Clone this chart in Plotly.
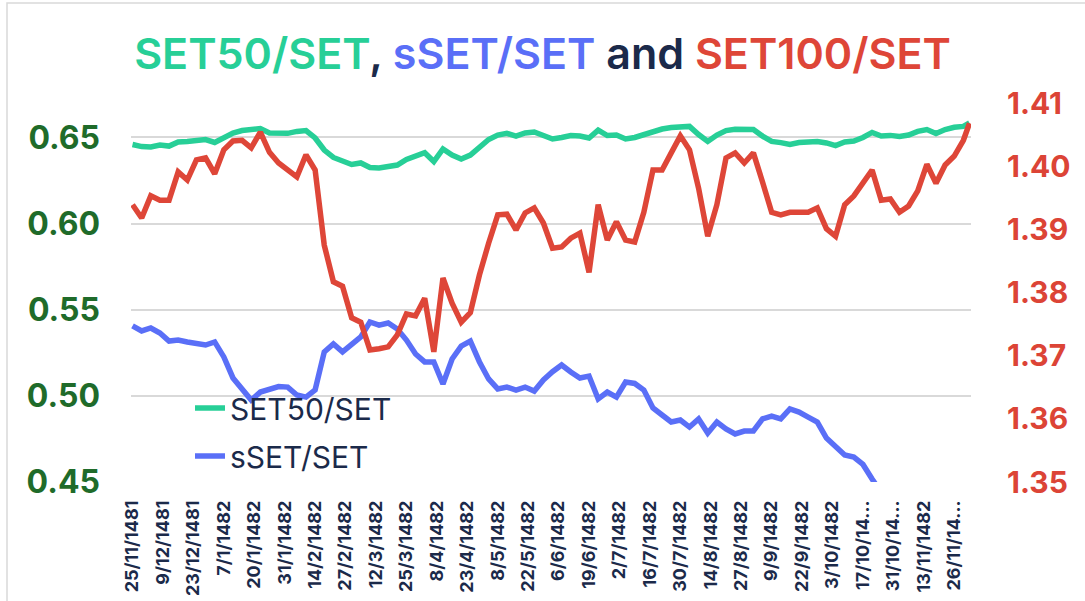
import plotly.graph_objects as go

# x positions are trading-day indices (276 sessions), sampled every 3 sessions plus the last one
n_days = 276
x_idx = list(range(0, n_days, 3)) + [n_days - 1]

tick_labels = ["25/11/1481", "9/12/1481", "23/12/1481", "7/1/1482", "20/1/1482", "31/1/1482",
               "14/2/1482", "27/2/1482", "12/3/1482", "25/3/1482", "8/4/1482", "23/4/1482",
               "8/5/1482", "22/5/1482", "6/6/1482", "19/6/1482", "2/7/1482", "16/7/1482",
               "30/7/1482", "14/8/1482", "27/8/1482", "9/9/1482", "22/9/1482", "3/10/1482",
               "17/10/14...", "31/10/14...", "13/11/1482", "26/11/14..."]
tick_step = 10

set50 = [0.6459, 0.6447, 0.6445, 0.6456, 0.6450, 0.6474, 0.6477, 0.6482, 0.6488, 0.6471,
         0.6503, 0.6526, 0.6540, 0.6546, 0.6552, 0.6526, 0.6523, 0.6524, 0.6535, 0.6540,
         0.6497, 0.6427, 0.6384, 0.6366, 0.6343, 0.6352, 0.6326, 0.6323, 0.6331, 0.6340,
         0.6372, 0.6389, 0.6411, 0.6360, 0.6433, 0.6398, 0.6375, 0.6398, 0.6439, 0.6488,
         0.6514, 0.6524, 0.6508, 0.6526, 0.6532, 0.6508, 0.6491, 0.6500, 0.6511, 0.6508,
         0.6497, 0.6543, 0.6511, 0.6514, 0.6491, 0.6500, 0.6517, 0.6540, 0.6549, 0.6558,
         0.6564, 0.6564, 0.6517, 0.6477, 0.6514, 0.6540, 0.6547, 0.6543, 0.6546, 0.6508,
         0.6477, 0.6470, 0.6460, 0.6471, 0.6471, 0.6477, 0.6468, 0.6453, 0.6474, 0.6479,
         0.6500, 0.6529, 0.6508, 0.6512, 0.6506, 0.6514, 0.6535, 0.6546, 0.6523, 0.6546,
         0.6559, 0.6564, 0.6584]

sset = [0.5406, 0.5377, 0.5394, 0.5365, 0.5318, 0.5324, 0.5313, 0.5307, 0.5295, 0.5313,
        0.5226, 0.5104, 0.5040, 0.4976, 0.5022, 0.5040, 0.5054, 0.5051, 0.5005, 0.4993,
        0.5034, 0.5255, 0.5301, 0.5255, 0.5295, 0.5342, 0.5429, 0.5411, 0.5423, 0.5388,
        0.5324, 0.5243, 0.5197, 0.5197, 0.5069, 0.5214, 0.5289, 0.5318, 0.5197, 0.5098,
        0.5040, 0.5051, 0.5034, 0.5051, 0.5028, 0.5092, 0.5140, 0.5179, 0.5139, 0.5104,
        0.5115, 0.4982, 0.5022, 0.4993, 0.5080, 0.5072, 0.5034, 0.4930, 0.4889, 0.4848,
        0.4860, 0.4819, 0.4866, 0.4784, 0.4848, 0.4808, 0.4779, 0.4796, 0.4796, 0.4866,
        0.4883, 0.4866, 0.4924, 0.4906, 0.4877, 0.4848, 0.4755, 0.4706, 0.4657, 0.4645,
        0.4602, 0.4517, 0.4440]

set100 = [1.3939, 1.3918, 1.3953, 1.3946, 1.3946, 1.3991, 1.3978, 1.4010, 1.4013, 1.3988,
          1.4026, 1.4040, 1.4041, 1.4029, 1.4054, 1.4022, 1.4005, 1.3994, 1.3983, 1.4018,
          1.3994, 1.3875, 1.3817, 1.3810, 1.3760, 1.3753, 1.3709, 1.3711, 1.3714, 1.3733,
          1.3766, 1.3763, 1.3791, 1.3706, 1.3823, 1.3783, 1.3753, 1.3768, 1.3828, 1.3878,
          1.3923, 1.3924, 1.3899, 1.3926, 1.3934, 1.3910, 1.3870, 1.3872, 1.3886, 1.3894,
          1.3832, 1.3939, 1.3883, 1.3912, 1.3883, 1.3880, 1.3927, 1.3994, 1.3994, 1.4021,
          1.4048, 1.4026, 1.3965, 1.3889, 1.3939, 1.4013, 1.4021, 1.4005, 1.4021, 1.3975,
          1.3927, 1.3923, 1.3927, 1.3927, 1.3927, 1.3934, 1.3901, 1.3889, 1.3939, 1.3953,
          1.3975, 1.3994, 1.3946, 1.3948, 1.3927, 1.3937, 1.3961, 1.4003, 1.3973, 1.4002,
          1.4016, 1.4041, 1.4068]

left_ticks = [0.45, 0.50, 0.55, 0.60, 0.65]
right_ticks = [1.35, 1.36, 1.37, 1.38, 1.39, 1.40, 1.41]

GREEN = "#27CF97"
BLUE = "#5A6FF7"
RED = "#DE4638"
NAVY = "#1B2A4A"
FONT = "Inter"

fig = go.Figure()
fig.add_trace(go.Scatter(x=x_idx, y=set50, name="SET50/SET", mode="lines",
                         line=dict(color=GREEN, width=5.5), legendgroup="a"))
fig.add_trace(go.Scatter(x=x_idx[:len(sset)], y=sset, name="sSET/SET", mode="lines",
                         line=dict(color=BLUE, width=5.5), legendgroup="b"))
fig.add_trace(go.Scatter(x=x_idx, y=set100, name="SET100/SET", mode="lines",
                         line=dict(color=RED, width=5.5), yaxis="y2", showlegend=False))

title_html = (f"<span style='color:{GREEN}'>SET50/SET</span>"
              f"<span style='color:{NAVY}'>, </span>"
              f"<span style='color:{BLUE}'>sSET/SET</span>"
              f"<span style='color:{NAVY}'> and </span>"
              f"<span style='color:{RED}'>SET100/SET</span>")

L, R, T, B = 131, 114, 103, 119
W, H = 1085, 601
pw, ph = W - L - R, H - T - B

fig.update_layout(
    width=W, height=H,
    margin=dict(l=L, r=R, t=T, b=B, autoexpand=False),
    paper_bgcolor="white", plot_bgcolor="white",
    title=dict(text=title_html, x=0.5, xanchor="center", y=1 - 54 / H, yanchor="middle",
               font=dict(family=FONT, size=43, weight=600)),
    xaxis=dict(range=[-0.5, n_days - 0.5], tickmode="array",
               tickvals=[i * tick_step for i in range(len(tick_labels))], ticktext=tick_labels,
               tickangle=-90, showgrid=False, zeroline=False, showline=False, ticks="",
               ticklabelstandoff=14, automargin=False,
               tickfont=dict(family=FONT, size=18, color=NAVY, weight=700)),
    yaxis=dict(range=[0.45, 0.67], tickmode="array", tickvals=left_ticks,
               ticktext=[f"{v:.2f}" for v in left_ticks],
               showgrid=True, gridcolor="#D9D9D9", gridwidth=1.5, zeroline=False,
               showline=False, ticks="", ticklabelstandoff=30, automargin=False,
               tickfont=dict(family=FONT, size=32, color="#1F6B2A", weight=700)),
    yaxis2=dict(range=[1.35, 1.41], tickmode="array", tickvals=right_ticks,
                ticktext=[f"{v:.2f}" for v in right_ticks],
                overlaying="y", side="right", showgrid=False, zeroline=False,
                showline=False, ticks="", ticklabelstandoff=35, automargin=False,
                tickfont=dict(family=FONT, size=30, color="#DC4436", weight=700)),
    legend=dict(x=(190 - L) / pw, xanchor="left", y=(H - B - 382) / ph, yanchor="top",
                bgcolor="rgba(0,0,0,0)", font=dict(family=FONT, size=30, color=NAVY),
                tracegroupgap=6, traceorder="grouped"),
    shapes=[dict(type="rect", xref="paper", yref="paper",
                 x0=(7 - L) / pw, x1=(W + 10 - L) / pw,
                 y0=-(B + 10) / ph, y1=(H - 3 - B) / ph,
                 line=dict(color="#D9D9D9", width=1.5), layer="below")],
)

fig.write_html("out.html", config={"displayModeBar": False},
               post_script="document.body.style.margin='0px';")
